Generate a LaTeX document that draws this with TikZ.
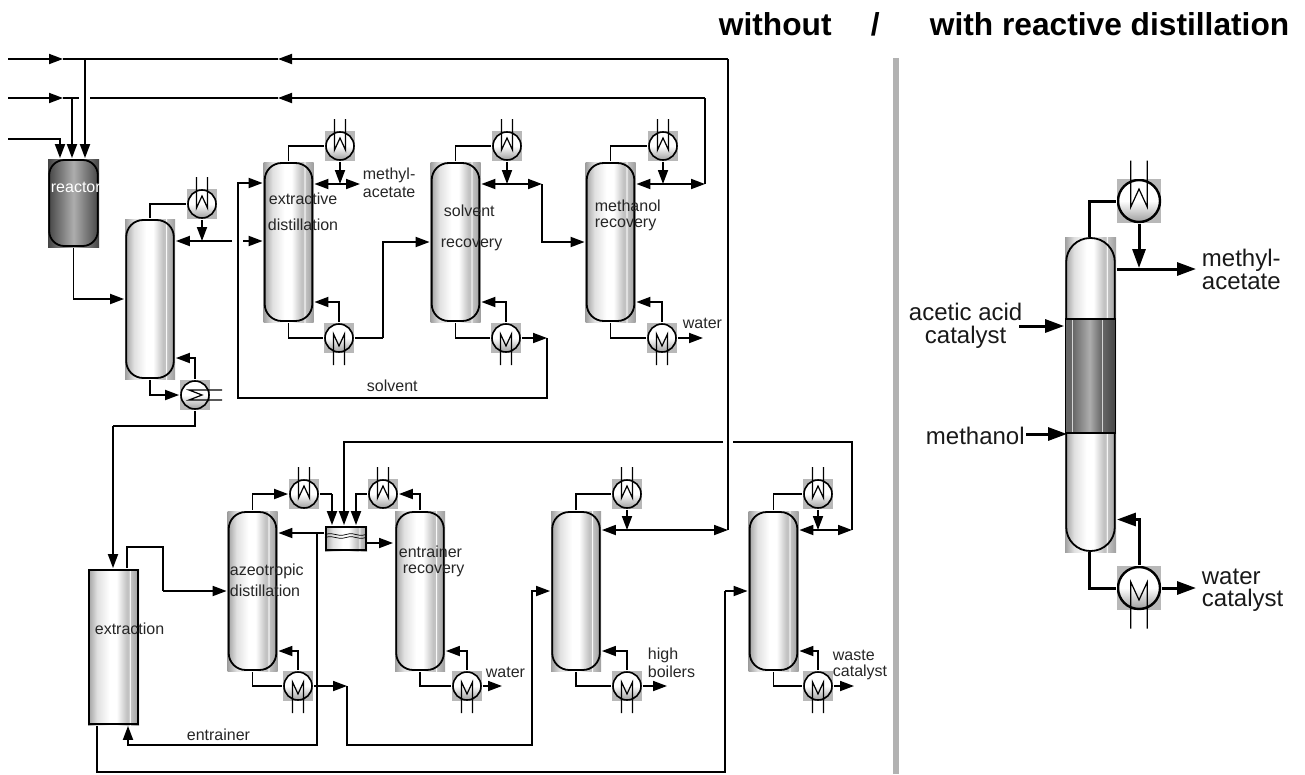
\documentclass[tikz,border=0pt]{standalone}
\usepackage{fontspec}
\setmainfont{Liberation Sans}
\usetikzlibrary{arrows.meta}
\definecolor{boxgray}{gray}{0.72}
\definecolor{exgray}{gray}{0.6}
\definecolor{edgegray}{gray}{0.62}
\definecolor{midgray}{gray}{0.76}
\definecolor{softgray}{gray}{0.88}
\definecolor{darkedge}{gray}{0.27}
\definecolor{darkmid}{gray}{0.68}
\definecolor{bandedge}{gray}{0.4}
\definecolor{dividergray}{gray}{0.7}
\pgfdeclarehorizontalshading{towershade}{100bp}{color(0bp)=(edgegray); color(25bp)=(edgegray); color(34bp)=(softgray); color(46bp)=(white); color(53bp)=(white); color(63bp)=(midgray); color(65bp)=(midgray); color(66bp)=(white); color(67bp)=(midgray); color(75bp)=(edgegray); color(100bp)=(edgegray)}
\pgfdeclarehorizontalshading{reactorshade}{100bp}{color(0bp)=(darkedge); color(25bp)=(darkedge); color(50bp)=(darkmid); color(75bp)=(darkedge); color(100bp)=(darkedge)}
\pgfdeclarehorizontalshading{bandshade}{100bp}{color(0bp)=(bandedge); color(25bp)=(bandedge); color(31bp)=(bandedge); color(31.5bp)=(white); color(32bp)=(bandedge); color(49bp)=(darkmid); color(61bp)=(bandedge); color(61.5bp)=(white); color(62bp)=(bandedge); color(75bp)=(darkedge); color(100bp)=(darkedge)}
\tikzset{
  >={Triangle[length=14pt,width=10pt]},
  every path/.style={line width=1.8pt},
  vessel/.style={rectangle,inner sep=0pt,minimum width=50,
    path picture={\draw[line width=1.8pt,rounded corners=#1pt]
      ([shift={(1.2,-1)}]path picture bounding box.south west) rectangle
      ([shift={(-1.2,1)}]path picture bounding box.north east);}},
  tower/.style={vessel=17,shading=towershade,minimum height=160},
  exch/.style={rectangle,inner sep=0pt,fill=boxgray,minimum size=2*#1+2,
    path picture={\shade[top color=white,bottom color=exgray,middle color=white]
      (path picture bounding box.center) circle[radius=#1pt];
      \draw[line width=#1*0.115pt] (path picture bounding box.center) circle[radius=#1pt];}},
  txt/.style={inner sep=0pt,anchor=west,font=\fontsize{16}{18}\selectfont,text=black!85},
  bigtxt/.style={inner sep=0pt,anchor=west,font=\fontsize{24}{23}\selectfont,text=black!90},
  titletxt/.style={inner sep=0pt,anchor=base west,font=\fontsize{31.7}{34}\bfseries\selectfont},
  bigline/.style={line width=3pt,>={Triangle[length=19pt,width=13pt]}}
}
\begin{document}
\begin{tikzpicture}[x=1pt,y=-1pt]
  \useasboundingbox (0,0) rectangle (1305,774);

  % upper train
  \node [vessel=15,shading=reactorshade,minimum width=51,minimum height=88] (reactor) at (73.5,203) {};
  \node [tower] (col1) at (150,299) {};
  \node [tower] (col2) at (288.5,242) {};
  \node [tower] (col3) at (455.5,242) {};
  \node [tower] (col4) at (610.5,242) {};
  \node [exch=14] (c1) at (202,204) {};
  \node [exch=14] (c2) at (340,146) {};
  \node [exch=14] (c3) at (507,146) {};
  \node [exch=14] (c4) at (663,146) {};
  \node [exch=14] (r1) at (195,395) {};
  \node [exch=14] (r2) at (339,338) {};
  \node [exch=14] (r3) at (506,338) {};
  \node [exch=14] (r4) at (662,338) {};

  % lower train
  \node [vessel=0,shading=towershade,minimum width=51,minimum height=156] (extr) at (113.5,647) {};
  \node [tower] (col5) at (252.5,591) {};
  \node [tower] (col6) at (420,591) {};
  \node [tower] (col7) at (576,591) {};
  \node [tower] (col8) at (773.5,591) {};
  \node [exch=14] (c5) at (304,494) {};
  \node [exch=14] (c6) at (383,494) {};
  \node [exch=14] (c7) at (627,494) {};
  \node [exch=14] (c8) at (818,494) {};
  \node [exch=14] (r5) at (298,686) {};
  \node [exch=14] (r6) at (467,686) {};
  \node [exch=14] (r7) at (627,686) {};
  \node [exch=14] (r8) at (818,686) {};
  \node [vessel=0,shading=towershade,minimum width=42,minimum height=25] (dec) at (346,538.5) {};

  % with reactive distillation
  \node [rectangle,fill=dividergray,minimum width=6,minimum height=716,inner sep=0pt] (divider) at (896,416) {};
  \node [vessel=24,shading=towershade,minimum width=51,minimum height=315] (rdc) at (1090.5,394.5) {};
  \node [rectangle,inner sep=0pt,draw=black,line width=1.2pt,shading=bandshade,minimum width=50,minimum height=114] (band) at (1090.5,376) {};
  \node [exch=21] (cbig) at (1139,201) {};
  \node [exch=21] (rbig) at (1139,588) {};

  % coils of the exchangers
  \foreach \c/\k/\s in {c1/1/1,c2/1/1,c3/1/1,c4/1/1,c5/1/1,c6/1/1,c7/1/1,c8/1/1,
      r2/1/-1,r3/1/-1,r4/1/-1,r5/1/-1,r6/1/-1,r7/1/-1,r8/1/-1,cbig/1.5/1,rbig/1.5/-1}
    \draw [line width=1.2pt] ([shift={({-5.5*\k},{-27*\k*\s})}]\c.center)
      -- ++(0,{31*\k*\s}) -- ++({5.5*\k},{-12*\k*\s}) -- ++({5.5*\k},{12*\k*\s}) -- ++(0,{-31*\k*\s});
  \draw [line width=1.2pt] ([shift={(27,-5)}]r1.center) -- ++(-33,0) -- ++(13,5) -- ++(-13,5) -- ++(33,0);

  \coordinate (in1) at (8,59);
  \coordinate (in2) at (8,98);
  \coordinate (in3) at (8,139);
  \coordinate (in1m) at (63,59);
  \coordinate (in2m) at (63,98);
  \coordinate (j1) at (85,59);
  \coordinate (j2) at (72,98);
  \coordinate (j3) at (60,139);
  \coordinate (end2) at (79,98);
  \coordinate (back2) at (90,98);
  \coordinate (m1) at (278,59);
  \coordinate (m2) at (278,98);
  \coordinate (top1) at (728,59);
  \coordinate (top2) at (705,98);

  % feeds and recycle lines on top
  \draw[->] (in1) -- (in1m);
  \draw[->] (in2) -- (in2m);
  \draw (in1m) -- (j1);
  \draw (in2m) -- (end2);
  \draw[->] (j1) -- (j1 |- reactor.north);
  \draw[->] (j2) -- (j2 |- reactor.north);
  \draw[->] (in3) -- (j3) -- (j3 |- reactor.north);
  \draw[->] (top1) -- (m1);
  \draw (m1) -- (j1);
  \draw[->] (top2) -- (m2);
  \draw (m2) -- (back2);
  \draw[->] (reactor.south) |- (col1.west);

  % first column
  \coordinate (ref1) at (202,241);
  \coordinate (gap1) at (232,241);
  \coordinate (gap2) at (243,241);
  \draw (col1.north) |- (c1.west);
  \draw[->] (c1.south) -- (ref1);
  \draw[->] (gap1) -- (ref1 -| col1.east);
  \draw[->] (gap2) -- (gap2 -| col2.west);
  \draw[->] (col1.south) |- (r1.west);
  \draw[->] (r1.north) |- ([shift={(0,59)}]col1.east);

  % extractive distillation
  \coordinate (ref2) at (340,184);
  \coordinate (ref2r) at (360,184);
  \coordinate (sol1) at (547,338);
  \coordinate (sol2) at (547,398);
  \coordinate (sol3) at (238,398);
  \coordinate (sol4) at (238,183);
  \coordinate (kink2) at (383,338);
  \draw (col2.north) |- (c2.west);
  \draw[->] (c2.south) -- (ref2);
  \draw[<->] (ref2 -| col2.east) -- (ref2r);
  \draw (col2.south) |- (r2.west);
  \draw[->] (r2.north) |- ([shift={(0,60)}]col2.east);
  \draw (r2.east) -- (kink2);
  \draw[->] (kink2) |- (col3.west);
  \draw[->] (r3.east) -- (sol1);
  \draw[->] (sol1) -- (sol2) -- (sol3) -- (sol4) -- (sol4 -| col2.west);

  % solvent recovery
  \coordinate (ref3) at (507,184);
  \coordinate (ref3r) at (542,184);
  \draw (col3.north) |- (c3.west);
  \draw[->] (c3.south) -- (ref3);
  \draw[<->] (ref3 -| col3.east) -- (ref3r);
  \draw (col3.south) |- (r3.west);
  \draw[->] (r3.north) |- ([shift={(0,60)}]col3.east);
  \draw[->] (ref3r) |- (col4.west);

  % methanol recovery
  \coordinate (ref4) at (663,184);
  \coordinate (ref4r) at (705,184);
  \coordinate (out4) at (703,338);
  \draw (col4.north) |- (c4.west);
  \draw[->] (c4.south) -- (ref4);
  \draw[<->] (ref4 -| col4.east) -- (ref4r);
  \draw (ref4r) -- (top2);
  \draw (col4.south) |- (r4.west);
  \draw[->] (r4.north) |- ([shift={(0,60)}]col4.east);
  \draw[->] (r4.east) -- (out4);

  % extraction
  \coordinate (ex1) at (113,426);
  \coordinate (ex2) at (127,547);
  \coordinate (ex3) at (163,547);
  \coordinate (ex4) at (163,591);
  \coordinate (ex5) at (97,772);
  \coordinate (ex6) at (725,772);
  \coordinate (ex7) at (725,591);
  \coordinate (ent1) at (317,533);
  \coordinate (ent2) at (317,745);
  \coordinate (ent3) at (128,745);
  \draw (r1.south) |- (ex1);
  \draw[->] (ex1) -- (ex1 |- extr.north);
  \draw (ex2 |- extr.north) -- (ex2) -- (ex3) -- (ex4);
  \draw[->] (ex4) -- (ex4 -| col5.west);
  \draw (ex5 |- extr.south) -- (ex5) -- (ex6) -- (ex7);
  \draw[->] (ex7) -- (col8.west);
  \draw[->] (ent1) -- (ent2) -- (ent3) -- (ent3 |- extr.south);

  % azeotropic distillation and decanter
  \coordinate (dec1) at (332,494);
  \coordinate (dec2) at (356,494);
  \coordinate (dec3) at (365,543);
  \coordinate (dec4) at (393,543);
  \coordinate (low1) at (347,686);
  \coordinate (low2) at (347,745);
  \coordinate (low3) at (532,745);
  \coordinate (low4) at (532,591);
  \coordinate (out6) at (502,686);
  \draw[->] (col5.north) |- (c5.west);
  \draw (c5.east) -- (dec1);
  \draw[->] (dec1) -- (dec1 |- dec.north);
  \draw[->] (c6.west) -- (dec2) -- (dec2 |- dec.north);
  \draw[->] (col6.north) |- (c6.east);
  \draw (col5.south) |- (r5.west);
  \draw[->] (r5.north) |- ([shift={(0,60)}]col5.east);
  \draw[->] (r5.east) -- (low1);
  \draw[->] (low1) -- (low2) -- (low3) -- (low4) -- (low4 -| col7.west);
  \draw[->] (dec.west |- ent1) -- (ent1 -| col5.east);
  \draw[->] (dec3) -- (dec4);
  \draw (col6.south) |- (r6.west);
  \draw[->] (r6.north) |- ([shift={(0,60)}]col6.east);
  \draw[->] (r6.east) -- (out6);

  % wavy phase boundary
  \draw[line width=.7pt] ([shift={(-21,-4)}]dec.center) .. controls +(10,-3) and +(-10,3) .. ++(21,0) .. controls +(10,-3) and +(-10,3) .. ++(20,0);
  \draw[line width=.7pt] ([shift={(-21,-1)}]dec.center) .. controls +(10,-3) and +(-10,3) .. ++(21,0) .. controls +(10,-3) and +(-10,3) .. ++(20,0);

  % remaining two columns
  \coordinate (ref7) at (627,530);
  \coordinate (ref8) at (818,530);
  \coordinate (top7) at (728,530);
  \coordinate (top8) at (852,530);
  \coordinate (ret1) at (852,442);
  \coordinate (ret2) at (733,442);
  \coordinate (ret3) at (723,442);
  \coordinate (ret4) at (344,442);
  \coordinate (out7) at (667,686);
  \coordinate (out8) at (854,686);
  \draw (col7.north) |- (c7.west);
  \draw[->] (c7.south) -- (ref7);
  \draw[<->] (ref7 -| col7.east) -- (top7);
  \draw (top7) -- (top1);
  \draw (col7.south) |- (r7.west);
  \draw[->] (r7.north) |- ([shift={(0,60)}]col7.east);
  \draw[->] (r7.east) -- (out7);
  \draw (col8.north) |- (c8.west);
  \draw[->] (c8.south) -- (ref8);
  \draw[<->] (ref8 -| col8.east) -- (top8);
  \draw (top8) -- (ret1) -- (ret2);
  \draw[->] (ret3) -- (ret4) -- (ret4 |- dec.north);
  \draw (col8.south) |- (r8.west);
  \draw[->] (r8.north) |- ([shift={(0,60)}]col8.east);
  \draw[->] (r8.east) -- (out8);

  % reactive column
  \coordinate (rtop) at (1089,237);
  \coordinate (rbot) at (1089,552);
  \coordinate (rref) at (1139,268);
  \coordinate (rout) at (1196,269);
  \coordinate (racid) at (1019,326);
  \coordinate (rmeoh) at (1026,434);
  \coordinate (rmeoht) at (1067,434);
  \draw[bigline] (rtop) |- (cbig.west);
  \draw[bigline,->] (cbig.south) -- (rref);
  \draw[bigline,->] (rout -| rdc.east) -- (rout);
  \draw[bigline,->] (racid) -- (racid -| rdc.west);
  \draw[bigline,->] (rmeoh) -- (rmeoht);
  \draw[bigline] (rbot) |- (rbig.west);
  \draw[bigline,->] (rbig.north) |- ([shift={(0,125)}]rdc.east);
  \draw[bigline,->] (rbig.east) -- (rbig.east -| rout);

  % labels
  \node [txt,text=white] (lreactor) at (50,187) {reactor};
  \node [txt] (lextr1) at (268,199) {extractive};
  \node [txt] (lextr2) at (267,225) {distillation};
  \node [txt] (lmeac1) at (362,175) {methyl-};
  \node [txt] (lmeac2) at (362,192) {acetate};
  \node [txt] (lsol1) at (443,211) {solvent};
  \node [txt] (lsol2) at (440,245) {recovery};
  \node [txt] (lmeoh1) at (594,206) {methanol};
  \node [txt] (lmeoh2) at (594,225) {recovery};
  \node [txt] (lwater1) at (682,323) {water};
  \node [txt] (lsolvent) at (366,386) {solvent};
  \node [txt] (lextraction) at (94,629) {extraction};
  \node [txt] (lazeo1) at (229,571) {azeotropic};
  \node [txt] (lazeo2) at (229,591) {distillation};
  \node [txt] (lent1) at (398,552) {entrainer};
  \node [txt] (lent2) at (402,571) {recovery};
  \node [txt] (lwater2) at (485,672) {water};
  \node [txt] (lentrainer) at (186,735) {entrainer};
  \node [txt] (lhigh1) at (647,655) {high};
  \node [txt] (lhigh2) at (647,672) {boilers};
  \node [txt] (lwaste1) at (832,655) {waste};
  \node [txt] (lwaste2) at (832,672) {catalyst};
  \node [bigtxt] (lbig1) at (1201,260) {methyl-};
  \node [bigtxt] (lbig2) at (1201,282) {acetate};
  \node [bigtxt,align=center] (lbig3) at (908,326) {acetic acid\\catalyst};
  \node [bigtxt] (lbig5) at (925,436) {methanol};
  \node [bigtxt] (lbig6) at (1201,577) {water};
  \node [bigtxt] (lbig7) at (1201,600) {catalyst};
  \node [titletxt] (title1) at (718,35) {without};
  \node [titletxt] (title2) at (870,35) {/};
  \node [titletxt] (title3) at (929,35) {with reactive distillation};
\end{tikzpicture}
\end{document}
